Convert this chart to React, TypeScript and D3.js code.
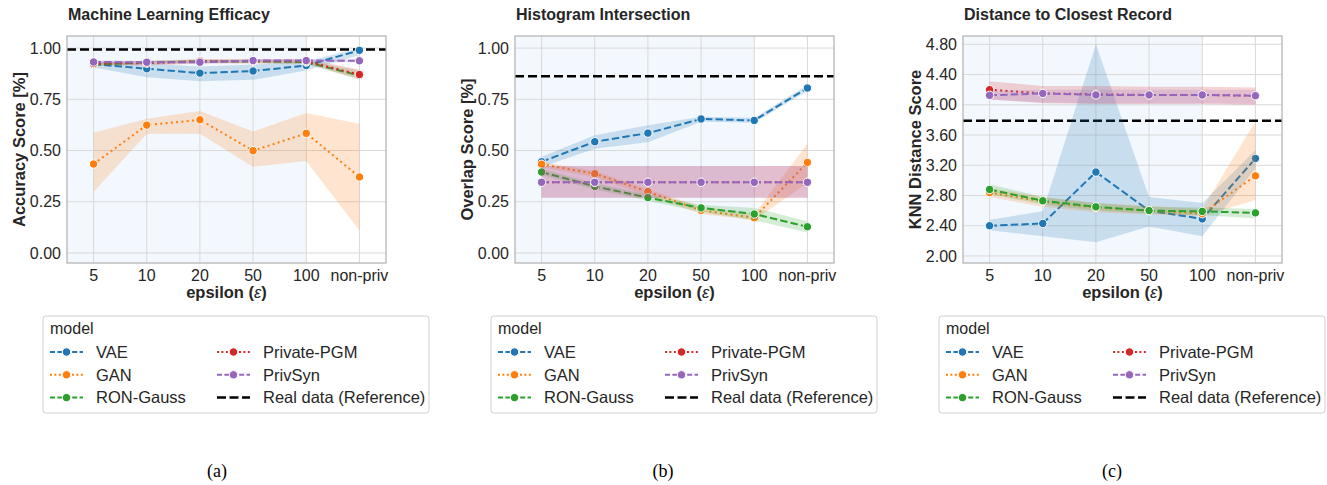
import React from "react";
import * as d3 from "d3";

const epsilonLabels = ["5", "10", "20", "50", "100", "non-priv"];
const modelNames = ["VAE", "GAN", "RON-Gauss", "Private-PGM", "PrivSyn"];
const modelColors = ["#1f77b4", "#ff7f0e", "#2ca02c", "#d62728", "#9467bd"];
const modelDashes = ["7.4,3.2", "2,3.3", "7.4,3.2", "2,3.3", "7.4,3.2"];
const legendDashes = ["5,2.4", "2,2.4", "5,2.4", "2,2.4", "5,2.4"];

// Machine Learning Efficacy
const mleMean = [
  [0.922, 0.899, 0.878, 0.888, 0.915, 0.989],
  [0.434, 0.624, 0.65, 0.499, 0.584, 0.371],
  [0.92, 0.93, 0.935, 0.935, 0.932, 0.866],
  [0.925, 0.926, 0.936, 0.936, 0.935, 0.871],
  [0.932, 0.931, 0.931, 0.939, 0.939, 0.938],
];
const mleLow = [
  [0.905, 0.858, 0.838, 0.845, 0.89, 0.965],
  [0.298, 0.582, 0.582, 0.42, 0.449, 0.11],
  [0.912, 0.922, 0.927, 0.927, 0.922, 0.845],
  [0.915, 0.915, 0.925, 0.925, 0.925, 0.85],
  [0.925, 0.925, 0.925, 0.932, 0.932, 0.93],
];
const mleHigh = [
  [0.935, 0.925, 0.91, 0.92, 0.935, 1.0],
  [0.587, 0.655, 0.693, 0.593, 0.683, 0.631],
  [0.928, 0.938, 0.943, 0.943, 0.94, 0.89],
  [0.935, 0.937, 0.947, 0.947, 0.947, 0.895],
  [0.939, 0.938, 0.938, 0.946, 0.946, 0.945],
];
const mleReference = 0.993;
const mleTicks = [0, 0.25, 0.5, 0.75, 1.0];

// Histogram Intersection
const histMean = [
  [0.445, 0.543, 0.585, 0.654, 0.647, 0.805],
  [0.433, 0.387, 0.299, 0.208, 0.172, 0.442],
  [0.395, 0.325, 0.27, 0.22, 0.19, 0.128],
  [0.345, 0.345, 0.345, 0.345, 0.345, 0.345],
  [0.345, 0.345, 0.345, 0.345, 0.345, 0.345],
];
const histLow = [
  [0.42, 0.509, 0.541, 0.64, 0.635, 0.79],
  [0.42, 0.37, 0.28, 0.19, 0.16, 0.34],
  [0.38, 0.31, 0.255, 0.2, 0.16, 0.1],
  [0.27, 0.27, 0.27, 0.27, 0.27, 0.27],
  [0.27, 0.27, 0.27, 0.27, 0.27, 0.27],
];
const histHigh = [
  [0.47, 0.574, 0.623, 0.665, 0.66, 0.82],
  [0.445, 0.4, 0.31, 0.225, 0.19, 0.533],
  [0.41, 0.34, 0.285, 0.235, 0.22, 0.155],
  [0.424, 0.424, 0.424, 0.424, 0.424, 0.424],
  [0.424, 0.424, 0.424, 0.424, 0.424, 0.424],
];
const histReference = 0.863;
const histTicks = [0, 0.25, 0.5, 0.75, 1.0];

// Distance to Closest Record
const dcrMean = [
  [2.4, 2.43, 3.11, 2.6, 2.49, 3.29],
  [2.84, 2.72, 2.64, 2.6, 2.56, 3.06],
  [2.88, 2.73, 2.65, 2.6, 2.59, 2.57],
  [4.2, 4.15, 4.14, 4.13, 4.13, 4.12],
  [4.125, 4.15, 4.13, 4.13, 4.13, 4.12],
];
const dcrLow = [
  [2.34, 2.26, 2.18, 2.39, 2.26, 3.16],
  [2.78, 2.65, 2.58, 2.55, 2.53, 2.74],
  [2.82, 2.68, 2.6, 2.56, 2.54, 2.5],
  [4.07, 4.02, 4.01, 4.01, 4.01, 4.0],
  [4.07, 4.03, 4.02, 4.02, 4.02, 4.01],
];
const dcrHigh = [
  [2.48, 2.59, 4.8, 2.78, 2.7, 3.4],
  [2.9, 2.78, 2.7, 2.66, 2.62, 3.78],
  [2.95, 2.78, 2.7, 2.65, 2.64, 2.62],
  [4.31, 4.25, 4.25, 4.24, 4.24, 4.23],
  [4.18, 4.2, 4.2, 4.2, 4.2, 4.2],
];
const dcrReference = 3.79;
const dcrTicks = [2.0, 2.4, 2.8, 3.2, 3.6, 4.0, 4.4, 4.8];

const FONT = "'Liberation Sans', Arial, sans-serif";
const TEXT = "#262626";

type PanelProps = {
  left: number;
  title: string;
  yLabel: string;
  yDomain: [number, number];
  ticks: number[];
  means: number[][];
  lows: number[][];
  highs: number[][];
  reference: number;
  caption: string;
  captionX: number;
};

function Panel(p: PanelProps) {
  const x0 = p.left;
  const x1 = p.left + 319;
  const y0 = 36;
  const y1 = 263;
  const x = d3.scalePoint<string>().domain(epsilonLabels).range([x0, x1]).padding(0.5);
  const y = d3.scaleLinear().domain(p.yDomain).range([y1, y0]);

  const line = d3
    .line<number>()
    .x((_, i) => x(epsilonLabels[i]) as number)
    .y((d) => y(d));

  const spanEnd = x("100") as number;
  const legendX = x0 - 24;
  const legendY = 316;

  return (
    <g>
      <text x={x0 + 1} y={20} fontFamily={FONT} fontSize={16} fontWeight="bold" fill={TEXT}>
        {p.title}
      </text>
      <rect x={x0} y={y0} width={spanEnd - x0} height={y1 - y0} fill="#f3f8fe" />
      {p.ticks.map((t) => (
        <g key={"y" + t}>
          <line x1={x0} x2={x1} y1={y(t)} y2={y(t)} stroke="#d9d9d9" strokeWidth={1} />
          <text
            x={x0 - 6}
            y={y(t)}
            dy="0.35em"
            textAnchor="end"
            fontFamily={FONT}
            fontSize={16}
            fill={TEXT}
          >
            {t.toFixed(2)}
          </text>
        </g>
      ))}
      {epsilonLabels.map((e) => (
        <g key={"x" + e}>
          <line x1={x(e)} x2={x(e)} y1={y0} y2={y1} stroke="#d9d9d9" strokeWidth={1} />
          <text x={x(e)} y={281} textAnchor="middle" fontFamily={FONT} fontSize={16} fill={TEXT}>
            {e}
          </text>
        </g>
      ))}
      <line
        x1={x0}
        x2={x1}
        y1={y(p.reference)}
        y2={y(p.reference)}
        stroke="#000"
        strokeWidth={2.5}
        strokeDasharray="9,4"
      />
      {modelNames.map((m, k) => {
        const area = d3
          .area<number>()
          .x((_, i) => x(epsilonLabels[i]) as number)
          .y0((_, i) => y(p.lows[k][i]))
          .y1((_, i) => y(p.highs[k][i]));
        return (
          <g key={m}>
            <path d={area(p.means[k]) || ""} fill={modelColors[k]} fillOpacity={0.2} />
            <path
              d={line(p.means[k]) || ""}
              fill="none"
              stroke={modelColors[k]}
              strokeWidth={2}
              strokeDasharray={modelDashes[k]}
            />
            {p.means[k].map((v, i) => (
              <circle
                key={i}
                cx={x(epsilonLabels[i])}
                cy={y(v)}
                r={4.2}
                fill={modelColors[k]}
                stroke="#fff"
                strokeWidth={1}
              />
            ))}
          </g>
        );
      })}
      <rect x={x0} y={y0} width={x1 - x0} height={y1 - y0} fill="none" stroke="#b3b3b3" strokeWidth={1.25} />
      <text
        transform={`translate(${x0 - 42},${(y0 + y1) / 2}) rotate(-90)`}
        textAnchor="middle"
        fontFamily={FONT}
        fontSize={16.5}
        fontWeight="bold"
        fill={TEXT}
      >
        {p.yLabel}
      </text>
      <text x={(x0 + x1) / 2} y={298} textAnchor="middle" fontFamily={FONT} fontSize={16.5} fontWeight="bold" fill={TEXT}>
        epsilon (<tspan fontStyle="italic" fontWeight="normal">ε</tspan>)
      </text>

      <rect x={legendX} y={legendY} width={386} height={97} rx={3} fill="#fff" stroke="#d0d0d0" strokeWidth={1} />
      <text x={legendX + 7} y={legendY + 18} fontFamily={FONT} fontSize={16} fill={TEXT}>
        model
      </text>
      {modelNames.map((m, k) => {
        const col = k < 3 ? 0 : 1;
        const row = k < 3 ? k : k - 3;
        const hx = legendX + 7 + col * 167;
        const hy = legendY + 36 + row * 22.8;
        return (
          <g key={"lg" + m}>
            <line x1={hx} x2={hx + 33} y1={hy} y2={hy} stroke={modelColors[k]} strokeWidth={2} strokeDasharray={legendDashes[k]} />
            <circle cx={hx + 16.5} cy={hy} r={4.2} fill={modelColors[k]} stroke="#fff" strokeWidth={1} />
            <text x={hx + 46} y={hy} dy="0.35em" fontFamily={FONT} fontSize={16.5} fill={TEXT}>
              {m}
            </text>
          </g>
        );
      })}
      <g>
        <line
          x1={legendX + 174}
          x2={legendX + 207}
          y1={legendY + 36 + 2 * 22.8}
          y2={legendY + 36 + 2 * 22.8}
          stroke="#000"
          strokeWidth={2.5}
          strokeDasharray="9,3.5"
        />
        <text x={legendX + 220} y={legendY + 36 + 2 * 22.8} dy="0.35em" fontFamily={FONT} fontSize={16.5} fill={TEXT}>
          Real data (Reference)
        </text>
      </g>
      <text x={p.captionX} y={477} textAnchor="middle" fontFamily="'Liberation Serif', 'DejaVu Serif', serif" fontSize={18} fill="#000">
        {p.caption}
      </text>
    </g>
  );
}

export default function App() {
  return (
    <div style={{ position: "absolute", left: 0, top: 0 }}>
      <svg width={1327} height={485} style={{ display: "block", background: "#fff" }}>
        <Panel
          left={67}
          title="Machine Learning Efficacy"
          yLabel="Accuracy Score [%]"
          yDomain={[-0.049, 1.059]}
          ticks={mleTicks}
          means={mleMean}
          lows={mleLow}
          highs={mleHigh}
          reference={mleReference}
          caption="(a)"
          captionX={217}
        />
        <Panel
          left={515}
          title="Histogram Intersection"
          yLabel="Overlap Score [%]"
          yDomain={[-0.049, 1.059]}
          ticks={histTicks}
          means={histMean}
          lows={histLow}
          highs={histHigh}
          reference={histReference}
          caption="(b)"
          captionX={663}
        />
        <Panel
          left={963}
          title="Distance to Closest Record"
          yLabel="KNN Distance Score"
          yDomain={[1.907, 4.91]}
          ticks={dcrTicks}
          means={dcrMean}
          lows={dcrLow}
          highs={dcrHigh}
          reference={dcrReference}
          caption="(c)"
          captionX={1112}
        />
      </svg>
    </div>
  );
}
